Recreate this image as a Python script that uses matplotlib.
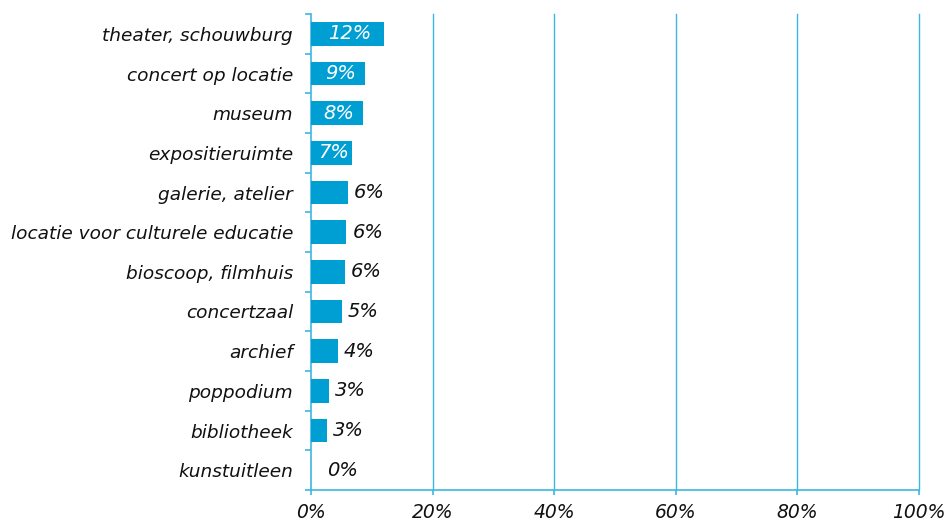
import numpy as np
import matplotlib
matplotlib.use("Agg")
import matplotlib.pyplot as plt
from matplotlib.ticker import FixedLocator

categories = ["theater, schouwburg", "concert op locatie", "museum", "expositieruimte",
              "galerie, atelier", "locatie voor culturele educatie", "bioscoop, filmhuis",
              "concertzaal", "archief", "poppodium", "bibliotheek", "kunstuitleen"]
values = [12.0, 8.9, 8.5, 6.7, 6.1, 5.8, 5.6, 5.1, 4.4, 3.0, 2.6, 0.0]
labels = ["12%", "9%", "8%", "7%", "6%", "6%", "6%", "5%", "4%", "3%", "3%", "0%"]
xticks = [0, 20, 40, 60, 80, 100]
xticklabels = ["0%", "20%", "40%", "60%", "80%", "100%"]

bar_color = "#009FD3"
line_color = "#3DB6E2"
text_color = "#111111"

plt.rcParams["font.family"] = "DejaVu Sans"

fig = plt.figure(figsize=(9.5, 5.22), dpi=100)
ax = fig.add_axes([311 / 950, 1 - 490 / 522, 608 / 950, 476 / 522])

y = np.arange(len(categories))
ax.barh(y, values, height=0.6, color=bar_color, zorder=3)
ax.set_xlim(0, 100)
ax.set_ylim(len(categories) - 0.5, -0.5)

for i, (v, lab) in enumerate(zip(values, labels)):
    if v >= 6.5:
        ax.text(v / 2 + 0.4, i, lab, ha="center", va="center", color="white",
                fontsize=14, style="italic", zorder=4)
    else:
        ax.text(max(v, 1.7) + 1.0, i, lab, ha="left", va="center", color=text_color,
                fontsize=14, style="italic", zorder=4)

ax.set_yticks(y)
ax.set_yticklabels(categories, fontsize=13.3, style="italic", color=text_color)
ax.tick_params(axis="y", which="major", length=0, pad=13)
ax.yaxis.set_minor_locator(FixedLocator(np.arange(-0.5, len(categories), 1)))
ax.tick_params(axis="y", which="minor", length=4.3, color=line_color, width=1.2)

ax.set_xticks(xticks)
ax.set_xticklabels(xticklabels, fontsize=13.5, style="italic", color=text_color)
ax.tick_params(axis="x", length=3.6, color=line_color, width=1.2, pad=5.5)

for x in xticks[1:]:
    ax.axvline(x, color=line_color, linewidth=1.0, zorder=0, clip_on=False)
for s in ["top", "right"]:
    ax.spines[s].set_visible(False)
for s in ["left", "bottom"]:
    ax.spines[s].set_color(line_color)
    ax.spines[s].set_linewidth(1.2)

fig.savefig("out.png", dpi=100, facecolor="white")
